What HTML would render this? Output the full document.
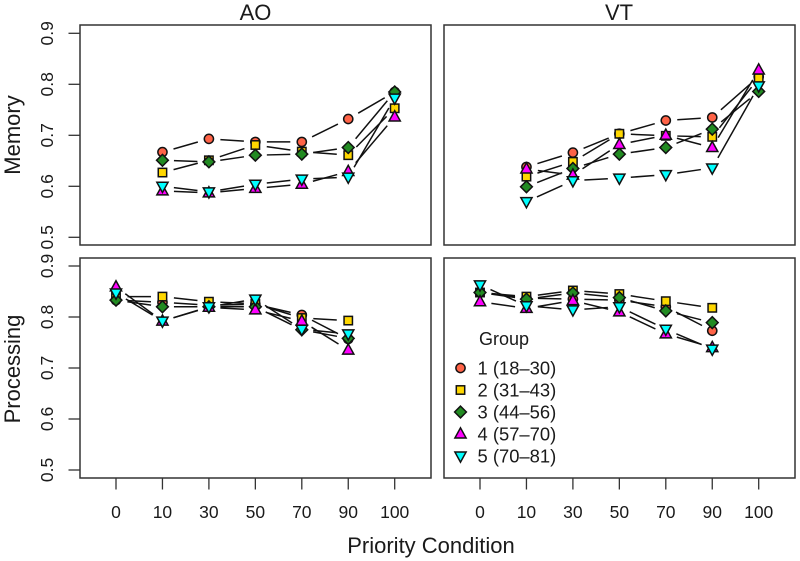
<!DOCTYPE html>
<html>
<head>
<meta charset="utf-8">
<style>
html,body{margin:0;padding:0;background:#fff}
svg{display:block}
text{font-family:"Liberation Sans",sans-serif;fill:#1a1a1a}
</style>
</head>
<body>
<svg id="chart" width="800" height="561" viewBox="0 0 800 561" xmlns="http://www.w3.org/2000/svg"></svg>
<script>
const categories = ['0', '10', '30', '50', '70', '90', '100'];
const yTicks = [0.5, 0.6, 0.7, 0.8, 0.9];
const groupLabels = ['1 (18–30)', '2 (31–43)', '3 (44–56)', '4 (57–70)', '5 (70–81)'];
const groupColors = ['#ff6347', '#ffd700', '#228b22', '#ff00ff', '#00ffff'];

const memoryAO1 = [null, 0.667, 0.693, 0.687, 0.687, 0.732, 0.785];
const memoryAO2 = [null, 0.627, 0.651, 0.681, 0.668, 0.661, 0.753];
const memoryAO3 = [null, 0.651, 0.648, 0.661, 0.663, 0.676, 0.785];
const memoryAO4 = [null, 0.591, 0.587, 0.596, 0.604, 0.629, 0.736];
const memoryAO5 = [null, 0.600, 0.589, 0.604, 0.614, 0.618, 0.773];

const memoryVT1 = [null, 0.638, 0.666, 0.703, 0.729, 0.735, 0.815];
const memoryVT2 = [null, 0.619, 0.648, 0.703, 0.699, 0.697, 0.812];
const memoryVT3 = [null, 0.599, 0.635, 0.663, 0.676, 0.712, 0.786];
const memoryVT4 = [null, 0.634, 0.622, 0.682, 0.700, 0.676, 0.828];
const memoryVT5 = [null, 0.570, 0.611, 0.616, 0.623, 0.636, 0.797];

const processingAO1 = [0.833, 0.829, 0.823, 0.825, 0.804, 0.757, null];
const processingAO2 = [0.840, 0.840, 0.830, 0.826, 0.798, 0.793, null];
const processingAO3 = [0.833, 0.820, 0.820, 0.820, 0.775, 0.758, null];
const processingAO4 = [0.859, 0.792, 0.819, 0.814, 0.792, 0.735, null];
const processingAO5 = [0.847, 0.792, 0.820, 0.835, 0.776, 0.767, null];

const processingVT1 = [0.848, 0.837, 0.835, 0.833, 0.820, 0.773, null];
const processingVT2 = [0.848, 0.840, 0.852, 0.845, 0.831, 0.818, null];
const processingVT3 = [0.848, 0.835, 0.847, 0.838, 0.812, 0.789, null];
const processingVT4 = [0.830, 0.817, 0.832, 0.810, 0.767, 0.740, null];
const processingVT5 = [0.863, 0.822, 0.814, 0.820, 0.776, 0.737, null];

const NS = 'http://www.w3.org/2000/svg';
const svg = document.getElementById('chart');

function make(tag, attrs, parent) {
  const el = document.createElementNS(NS, tag);
  for (const k in attrs) el.setAttribute(k, attrs[k]);
  (parent || svg).appendChild(el);
  return el;
}

function marker(shape, cx, cy, parent) {
  const st = { fill: groupColors[shape], stroke: '#111', 'stroke-width': 1.5, 'stroke-linejoin': 'miter' };
  let el;
  if (shape === 0) {
    el = make('circle', Object.assign({ cx: cx, cy: cy, r: 4.6 }, st), parent);
  } else if (shape === 1) {
    el = make('rect', Object.assign({ x: cx - 4.2, y: cy - 4.2, width: 8.4, height: 8.4 }, st), parent);
  } else if (shape === 2) {
    const r = 5.9;
    el = make('polygon', Object.assign({ points: [cx, cy - r, cx + r, cy, cx, cy + r, cx - r, cy].join(' ') }, st), parent);
  } else if (shape === 3) {
    el = make('polygon', Object.assign({ points: [cx, cy - 6.2, cx + 5.6, cy + 4, cx - 5.6, cy + 4].join(' ') }, st), parent);
  } else {
    el = make('polygon', Object.assign({ points: [cx, cy + 6.2, cx + 5.6, cy - 4, cx - 5.6, cy - 4].join(' ') }, st), parent);
  }
  return el;
}

function drawPanel(panel) {
  const xScale = function (i) { return panel.x0 + i * 46.45; };
  const yScale = function (v) { return panel.y9 + (0.9 - v) * 510; };
  const g = make('g', {});
  
  

  panel.series.forEach(function (values, s) {
    const sg = make('g', {}, g);
    
    
    const pts = [];
    values.forEach(function (v, i) {
      if (v !== null) pts.push([xScale(i), yScale(v)]);
    });
    for (let i = 0; i < pts.length - 1; i++) {
      const dx = pts[i + 1][0] - pts[i][0];
      const dy = pts[i + 1][1] - pts[i][1];
      const d = Math.sqrt(dx * dx + dy * dy);
      const gap = 11.5;
      if (d <= gap * 2) continue;
      const ux = dx / d, uy = dy / d;
      const seg = make('line', {
        x1: pts[i][0] + ux * gap, y1: pts[i][1] + uy * gap,
        x2: pts[i + 1][0] - ux * gap, y2: pts[i + 1][1] - uy * gap,
        stroke: '#111', 'stroke-width': 1.5
      }, sg);
      
      
    }
    pts.forEach(function (p) {
      const m = marker(s, p[0], p[1], sg);
      
      
    });
  });

  const frame = make('rect', {
    x: panel.left, y: panel.top, width: panel.right - panel.left, height: panel.bottom - panel.top,
    fill: 'none', stroke: '#333', 'stroke-width': 1.5
  }, g);
  
  

  if (panel.showX) {
    categories.forEach(function (c, i) {
      const t = make('line', { x1: xScale(i), x2: xScale(i), y1: panel.bottom, y2: panel.bottom + 11.5, stroke: '#333', 'stroke-width': 1.3 }, g);
      
      
      const l = make('text', { x: xScale(i), y: 518, 'font-size': 17.5, 'text-anchor': 'middle' }, g);
      l.textContent = c;
      
      
    });
  }
  if (panel.showY) {
    yTicks.forEach(function (v) {
      const y = yScale(v);
      const t = make('line', { x1: 68.5, x2: panel.left, y1: y, y2: y, stroke: '#333', 'stroke-width': 1.3 }, g);
      
      
      const l = make('text', { transform: 'translate(53,' + y + ') rotate(-90)', 'font-size': 17.5, 'text-anchor': 'middle' }, g);
      l.textContent = v.toFixed(1);
      
      
    });
  }
}

drawPanel({ name: 'memory-ao-panel', left: 80, right: 431, top: 25, bottom: 245, x0: 116, y9: 33.3, showX: false, showY: true,
  series: [memoryAO1, memoryAO2, memoryAO3, memoryAO4, memoryAO5] });
drawPanel({ name: 'memory-vt-panel', left: 444, right: 795, top: 25, bottom: 245, x0: 480, y9: 33.3, showX: false, showY: false,
  series: [memoryVT1, memoryVT2, memoryVT3, memoryVT4, memoryVT5] });
drawPanel({ name: 'processing-ao-panel', left: 80, right: 431, top: 258, bottom: 478, x0: 116, y9: 266, showX: true, showY: true,
  series: [processingAO1, processingAO2, processingAO3, processingAO4, processingAO5] });
drawPanel({ name: 'processing-vt-panel', left: 444, right: 795, top: 258, bottom: 478, x0: 480, y9: 266, showX: true, showY: false,
  series: [processingVT1, processingVT2, processingVT3, processingVT4, processingVT5] });

const titleAO = make('text', { x: 255.5, y: 20, 'font-size': 22, 'text-anchor': 'middle' });
titleAO.textContent = 'AO';



const titleVT = make('text', { x: 619, y: 20, 'font-size': 22, 'text-anchor': 'middle' });
titleVT.textContent = 'VT';



const memLabel = make('text', { transform: 'translate(20,135) rotate(-90)', 'font-size': 22, 'text-anchor': 'middle' });
memLabel.textContent = 'Memory';



const procLabel = make('text', { transform: 'translate(20,369) rotate(-90)', 'font-size': 22, 'text-anchor': 'middle' });
procLabel.textContent = 'Processing';



const xLabel = make('text', { x: 431, y: 553, 'font-size': 22, 'text-anchor': 'middle' });
xLabel.textContent = 'Priority Condition';



const legendTitle = make('text', { x: 479, y: 345, 'font-size': 18 });
legendTitle.textContent = 'Group';



groupLabels.forEach(function (label, i) {
  const cy = 368 + i * 22;
  const entry = make('g', {});
  
  
  marker(i, 460.5, cy, entry);
  const t = make('text', { x: 477.5, y: cy + 6.5, 'font-size': 18.4 }, entry);
  t.textContent = label;
});
</script>
</body>
</html>
